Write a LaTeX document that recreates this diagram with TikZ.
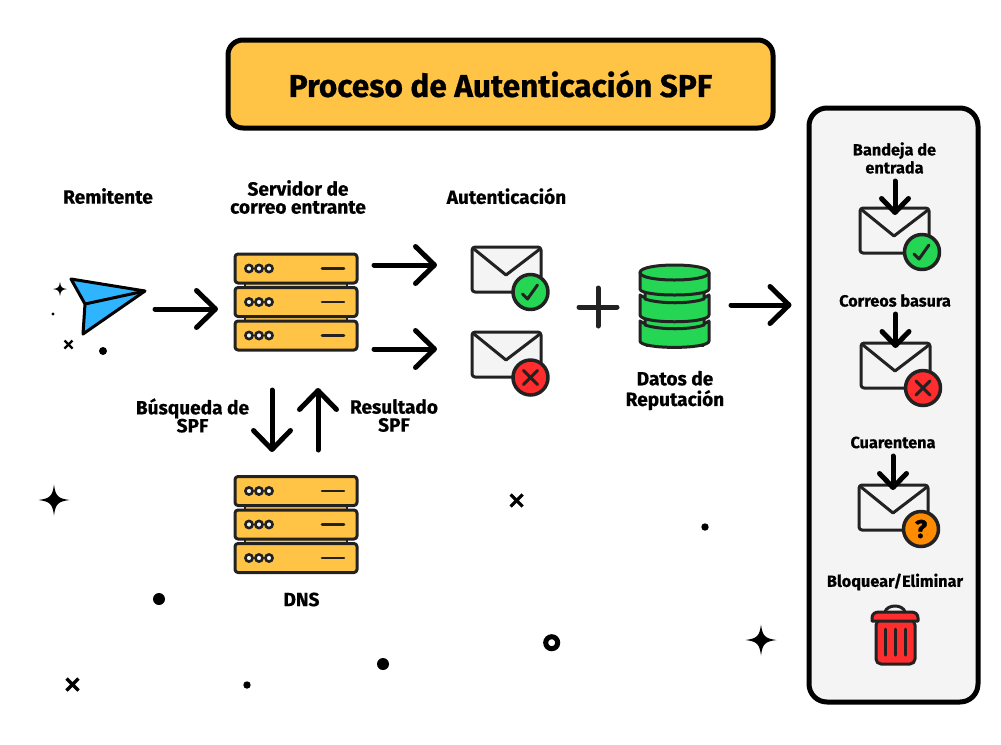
\documentclass[tikz,border=0pt]{standalone}
\usepackage{fontspec}
\setmainfont{Fira Sans}
\usetikzlibrary{arrows.meta,calc}
\definecolor{ink}{HTML}{222222}
\definecolor{gold}{HTML}{FFC445}
\definecolor{paper}{HTML}{F4F4F4}
\definecolor{sky}{HTML}{2FB5FF}
\definecolor{okgreen}{HTML}{25D655}
\definecolor{badred}{HTML}{FF2D2D}
\definecolor{warn}{HTML}{FF8C00}
\def\px{0.75pt}
\tikzset{
  x=0.75pt,y=-0.75pt,
  hold/.style={inner sep=0pt,outer sep=0pt,minimum width=#1*\px},
  arr/.style={-{Straight Barb[length=19*\px,width=37*\px,round]},line width=5*\px,line cap=round,black,shorten <=2*\px},
  arrs/.style={-{Straight Barb[length=14*\px,width=27*\px,round]},line width=5*\px,line cap=round,black},
  lbl/.style={font=\fontsize{14.3}{13.5}\selectfont\bfseries\addfontfeature{FakeBold=0.6},align=center,inner sep=0pt,text=black},
  lbs/.style={font=\fontsize{12.2}{13.5}\selectfont\bfseries\addfontfeature{FakeBold=0.6},align=center,inner sep=0pt,text=black},
  icon/.style={draw=ink,line width=3*\px,line join=round,line cap=round},
  rack/.style={icon,fill=gold,rounded corners=3*\px},
  server/.pic={
    \foreach \dy in {0,33.5}{\path[icon,line width=2*\px,fill=gold] (10,26+\dy) rectangle (112,37+\dy);}
    \foreach \dy in {0,33.5,67}{
      \path[rack] (0,0+\dy) rectangle (122,29+\dy);
      \foreach \cx in {14,24,34}{\path[icon,fill=paper,line width=2.6*\px] (\cx,14.5+\dy) circle[radius=3.6];}
      \draw[icon,line width=2.6*\px] (87,14.5+\dy) -- (109,14.5+\dy);
    }
  },
  envelope/.pic={
    \path[icon,fill=paper,rounded corners=3*\px] (0,0) rectangle (69,45);
    \draw[icon] (2,2) -- (34,28) -- (68,2);
  },
  badge/.style={icon,line width=3.5*\px},
  sparkle/.pic={
    \fill[black] (0,-1) .. controls (0.1,-0.25) and (0.25,-0.1) .. (1,0) .. controls (0.25,0.1) and (0.1,0.25) .. (0,1) .. controls (-0.1,0.25) and (-0.25,0.1) .. (-1,0) .. controls (-0.25,-0.1) and (-0.1,-0.25) .. (0,-1) -- cycle;
  },
  xmark/.style={black,line width=3.2*\px},
}
\begin{document}
\begin{tikzpicture}
\useasboundingbox (0,0) rectangle (1001,744);
\fill[white] (0,0) rectangle (1001,744);

% decorations
\path (54,500) pic[scale=15.5] {sparkle};
\path (761,640) pic[scale=15.5] {sparkle};
\path (60,289) pic[scale=7] {sparkle};
\draw[xmark,line width=2.4*\px] (64.5,340.5) -- (72.5,348.5) (64.5,348.5) -- (72.5,340.5);
\draw[xmark] (510.7,494.5) -- (522.7,506.5) (510.7,506.5) -- (522.7,494.5);
\draw[xmark] (66.5,678.5) -- (78.5,690.5) (66.5,690.5) -- (78.5,678.5);
\fill[black] (53,314) circle[radius=1.6];
\fill[black] (103,351) circle[radius=4];
\fill[black] (705,527) circle[radius=3.7];
\fill[black] (159,599) circle[radius=6];
\fill[black] (383,664) circle[radius=6];
\fill[black] (247,685) circle[radius=3.7];
\draw[black,line width=5*\px] (551.7,642.7) circle[radius=6];

% title
\node[draw=black,fill=gold,line width=5*\px,rounded corners=15*\px,minimum width=545*\px,minimum height=88*\px,inner sep=0pt,font=\fontsize{23.7}{28}\selectfont\bfseries\addfontfeature{FakeBold=0.6}] (title) at (500.5,84) {Proceso de Autenticación SPF};

% panel
\node[draw=black,fill=paper,line width=5*\px,rounded corners=18*\px,minimum width=169*\px,minimum height=594*\px,inner sep=0pt] (panel) at (893.5,405) {};

% plane
\path[draw=black,line width=3*\px,line join=round,fill=sky] (71,279) -- (145,291) -- (83,334) -- (85,304) -- cycle;
\draw[black,line width=3*\px,line join=round] (85,304) -- (145,291);

% servers
\path (235,254) pic {server};
\path (235,476.5) pic {server};

% envelopes in the middle
\path (472,247) pic {envelope};
\path[badge,fill=okgreen] (530.5,292) circle[radius=17.5];
\draw[icon] (522.5,294) -- (527.5,299) -- (537.5,285);
\path (472,332) pic {envelope};
\path[badge,fill=badred] (530.5,377.5) circle[radius=17.5];
\draw[icon] (523.5,370.5) -- (537.5,384.5) (523.5,384.5) -- (537.5,370.5);

% plus
\draw[ink,line width=5*\px,line cap=round] (579,307) -- (617,307) (598,288) -- (598,326);

% database
\path[icon,fill=okgreen] (646,335) rectangle (703,345);
\path[icon,fill=okgreen] (640,321) .. controls (652,330) and (697,330) .. (709,321) -- (709,341) .. controls (709,349.5) and (640,349.5) .. (640,341) -- cycle;
\path[icon,fill=okgreen] (645,312) -- (704,312) -- (704,325) .. controls (690,330) and (660,330) .. (645,325) -- cycle;
\path[icon,fill=okgreen] (640,295) .. controls (652,304) and (697,304) .. (709,295) -- (709,315) .. controls (709,324) and (640,324) .. (640,315) -- cycle;
\path[icon,fill=okgreen] (645,285) -- (704,285) -- (704,299) .. controls (690,304) and (660,304) .. (645,299) -- cycle;
\path[icon,fill=okgreen] (640,272.5) -- (640,289) .. controls (640,297) and (709,297) .. (709,289) -- (709,272.5) .. controls (709,262.5) and (640,262.5) .. (640,272.5) -- cycle;
\draw[icon] (640,272.5) .. controls (640,282.5) and (709,282.5) .. (709,272.5);

% holders for the connectors
\node[hold=90,minimum height=60*\px] (plane) at (108,309) {};
\node[hold=156,minimum height=172*\px] (srv) at (296,302) {};
\node[hold=156,minimum height=128*\px] (dns) at (295,516) {};
\node[hold=138,minimum height=50*\px] (envok) at (506,265) {};
\node[hold=138,minimum height=50*\px] (envko) at (506,349) {};
\node[hold=108,minimum height=80*\px] (db) at (675,305) {};

% main connectors
\draw[arr] (plane.east) -- ([shift={(0,7)}]srv.west);
\draw[arr] ([shift={(-2,-37)}]srv.east) -- (envok.west);
\draw[arr] ([shift={(-2,47)}]srv.east) -- (envko.west);
\draw[arr] ([shift={(-24,0)}]srv.south) -- ([shift={(-23,0)}]dns.north);
\draw[arr] ([shift={(23,0)}]dns.north) -- ([shift={(22,0)}]srv.south);
\draw[arr] (db.east) -- ([shift={(-15,-100)}]panel.west);

% panel contents
\path (860,208) pic {envelope};
\path[badge,fill=okgreen] (922,252) circle[radius=17.5];
\draw[icon] (914,254) -- (919,259) -- (929,245);
\path (861,343) pic {envelope};
\path[badge,fill=badred] (923,388) circle[radius=17.5];
\draw[icon] (916,381) -- (930,395) (916,395) -- (930,381);
\path (859,485) pic {envelope};
\path[badge,fill=warn] (921,529) circle[radius=17.5];
\node[inner sep=0pt,font=\fontsize{19}{19}\selectfont\bfseries\addfontfeature{FakeBold=1.5},text=black] (qmark) at (921,529) {?};

% trash
\draw[icon] (885,612) .. controls (887,604) and (903,604) .. (905,612);
\path[icon,fill=badred,rounded corners=5*\px] (876,620) -- (876,664) -- (915,664) -- (915,620) -- cycle;
\path[icon,fill=badred] (872,621) -- (872,618) .. controls (872,614) and (875,612) .. (879,612) -- (911,612) .. controls (915,612) and (918,614) .. (918,618) -- (918,621) -- cycle;
\draw[icon] (885,629) -- (885,655) (895.5,629) -- (895.5,655) (905,629) -- (905,655);

% small arrows
\coordinate (inA) at (895,181);
\coordinate (inB) at (895.5,314);
\coordinate (inC) at (893,456);
\node[hold=30,minimum height=30*\px] (envA) at (895,230) {};
\node[hold=30,minimum height=30*\px] (envB) at (895.5,363) {};
\node[hold=30,minimum height=30*\px] (envC) at (893,505) {};
\draw[arrs] (inA) -- (envA.north);
\draw[arrs] (inB) -- (envB.north);
\draw[arrs] (inC) -- (envC.north);

% labels
\node[lbl] (lremit) at (108,196) {Remitente};
\node[lbl] (lserv) at (298,197) {Servidor de\\correo entrante};
\node[lbl] (lauth) at (506.5,196) {Autenticación};
\node[lbl] (lbusq) at (192.5,415.5) {Búsqueda de\\SPF};
\node[lbl] (lres) at (394,415.5) {Resultado\\SPF};
\node[lbl] (ldns) at (301.5,599.5) {DNS};
\node[lbl,font=\fontsize{14.3}{15.5}\selectfont\bfseries\addfontfeature{FakeBold=0.6}] (ldat) at (675,390.5) {Datos de\\Reputación};
\node[lbs] (lband) at (894.5,158) {Bandeja de\\entrada};
\node[lbs] (lcorr) at (895,300.5) {Correos basura};
\node[lbs] (lcuar) at (893,442.5) {Cuarentena};
\node[lbs] (lbloq) at (895,582) {Bloquear/Eliminar};
\end{tikzpicture}
\end{document}
